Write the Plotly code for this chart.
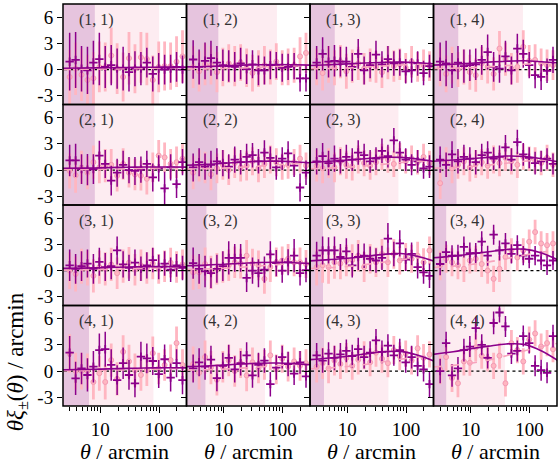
import plotly.graph_objects as go

# ---------------- data ----------------
THETA = [3.0, 3.79, 4.78, 6.03, 7.61, 9.61, 12.1, 15.3, 19.3, 24.4,
         30.7, 38.8, 49.0, 61.8, 78.0, 98.4, 124, 157, 198, 250]

PANEL_LABELS = ["(1, 1)", "(1, 2)", "(1, 3)", "(1, 4)",
                "(2, 1)", "(2, 2)", "(2, 3)", "(2, 4)",
                "(3, 1)", "(3, 2)", "(3, 3)", "(3, 4)",
                "(4, 1)", "(4, 2)", "(4, 3)", "(4, 4)"]

# theta * xi_plus (arcmin)
XIP = [
    [0.9, 1.1, 0.1, -0.1, 0.8, 1.2, 0.3, 0.5, 0.1, 0.1, -0.3, 0.1, 0.1, 0.8, -0.5, 0.1, 0.0, 0.1, 0.3, 0.0],
    [1.15, 0.3, 1.0, 1.3, 0.8, 0.5, 0.4, 0.3, 0.7, 0.05, 0.6, -0.1, -0.1, 0.5, 0.5, 0.2, 0.3, 0.4, -1.0, -1.0],
    [0.8, 1.8, 0.9, 1.0, 0.9, 0.9, 0.3, 1.8, -0.1, 0.5, 1.7, 0.6, 1.2, 0.7, 0.8, -0.2, -0.1, 0.7, -0.4, 0.4],
    [0.9, 0.7, -0.1, 0.8, 0.4, 0.5, 0.6, 1.1, 2.0, 0.3, 0.1, 1.5, -0.1, 2.4, 1.8, 0.5, -0.65, -0.85, -0.15, 1.1],
    [1.1, 1.1, 0.1, 0.05, 0.1, 1.65, 0.7, -1.2, -0.3, 0.6, 0.0, -0.1, 0.05, 0.7, -0.85, 0.2, -2.1, 0.3, -1.6, 0.9],
    [0.3, 0.9, 0.4, 0.6, 1.0, 0.8, 0.4, 1.2, 0.9, 1.5, 1.7, 1.0, 2.0, 1.4, 0.3, 1.3, 1.9, 0.5, -2.0, -0.3],
    [1.0, 1.6, 0.8, 1.3, 1.0, 1.5, 1.2, 2.0, 1.7, 1.0, 1.3, 2.2, 1.6, 3.4, 2.0, 1.2, 0.6, 1.0, 0.2, 0.4],
    [1.2, 0.6, 1.8, 1.0, 1.5, 1.3, 0.9, 1.7, 2.0, 1.3, 1.5, 2.6, 1.2, 3.2, 1.8, 1.4, 0.8, 1.0, 1.3, 0.7],
    [0.6, 0.2, 0.5, 0.8, 0.2, 1.0, 0.4, 0.5, 2.3, 0.7, 0.3, 0.9, 0.2, 0.6, 1.2, 0.4, 0.8, 0.1, 0.6, 0.3],
    [0.85, 0.2, -0.1, -0.3, 0.2, 0.5, 1.45, 1.45, 1.45, -0.85, 0.0, -0.3, 0.1, 1.85, 0.85, 0.0, 0.95, 1.7, -0.3, 0.05],
    [1.7, 2.3, 2.3, 2.3, 1.55, 2.2, 0.6, 1.55, 1.7, 1.35, 1.15, 1.45, 3.65, 1.9, 3.1, 1.25, 1.9, 0.4, -0.2, -0.6],
    [0.75, 2.1, 1.7, 1.7, 2.7, 2.0, 2.0, 3.3, 1.7, 4.1, 2.3, 3.1, 1.9, 2.9, 1.7, 1.35, 1.7, 1.15, 0.6, 1.15],
    [2.1, -0.85, 0.3, -0.45, 0.5, 2.4, 2.5, 0.7, -1.05, 0.9, -0.45, -1.4, 1.65, 1.45, 1.15, -0.35, 1.35, -0.75, 0.9, -1.05],
    [0.3, 1.0, 0.5, 1.3, -0.8, 0.6, 1.5, 0.2, 0.9, 1.8, -0.5, 0.7, 1.2, -1.5, 0.4, 1.6, 0.8, -0.3, 1.0, -0.6],
    [1.8, 1.2, 2.0, 1.5, 1.9, 2.3, 1.7, 2.5, 1.6, 2.1, 3.5, 2.2, 2.9, 1.8, 2.4, 1.0, 1.6, 0.6, 0.2, -1.5],
    [0.0, 3.2, -0.5, 0.3, 2.4, 2.8, 4.9, 3.0, 1.5, 5.5, 6.7, 5.1, 2.0, 2.3, 4.0, 3.2, 0.6, 0.1, -0.2, 4.0],
]

XIP_ERR = [
    [3.3, 3.2, 2.6, 2.7, 2.5, 3.0, 2.4, 2.3, 2.3, 2.5, 2.2, 2.0, 1.9, 1.7, 2.0, 1.8, 1.7, 1.6, 1.7, 1.6],
    [2.2, 2.0, 2.1, 2.0, 1.9, 1.8, 1.8, 1.7, 1.8, 1.7, 1.6, 1.7, 1.6, 1.6, 1.5, 1.6, 1.5, 1.5, 1.5, 1.5],
    [1.9, 1.9, 1.8, 1.8, 1.7, 1.7, 1.6, 1.7, 1.6, 1.5, 1.6, 1.5, 1.5, 1.4, 1.5, 1.4, 1.4, 1.4, 1.4, 1.3],
    [2.2, 2.6, 2.0, 1.9, 1.9, 1.8, 1.8, 1.7, 2.0, 1.7, 1.6, 1.8, 1.6, 1.7, 1.6, 1.5, 1.5, 1.5, 1.4, 1.5],
    [1.8, 1.9, 1.7, 1.8, 1.7, 1.7, 1.6, 1.7, 1.6, 1.6, 1.5, 1.6, 1.5, 1.5, 1.6, 1.5, 1.9, 1.5, 1.6, 1.5],
    [1.6, 1.6, 1.5, 1.6, 1.5, 1.5, 1.4, 1.5, 1.4, 1.5, 1.4, 1.4, 1.4, 1.3, 1.4, 1.3, 1.4, 1.3, 1.6, 1.4],
    [1.5, 1.5, 1.4, 1.5, 1.4, 1.4, 1.3, 1.4, 1.3, 1.3, 1.3, 1.4, 1.3, 1.4, 1.3, 1.3, 1.2, 1.3, 1.2, 1.3],
    [1.5, 1.4, 1.5, 1.4, 1.4, 1.3, 1.4, 1.3, 1.3, 1.3, 1.3, 1.4, 1.3, 1.4, 1.3, 1.2, 1.3, 1.2, 1.2, 1.2],
    [1.8, 1.7, 1.7, 1.6, 1.7, 1.6, 1.6, 1.5, 1.6, 1.5, 1.5, 1.5, 1.4, 1.5, 1.4, 1.4, 1.4, 1.4, 1.3, 1.4],
    [1.8, 1.7, 1.8, 1.7, 1.6, 1.7, 1.9, 1.6, 1.6, 1.6, 1.5, 1.6, 1.5, 1.5, 1.5, 1.4, 1.5, 1.9, 1.4, 1.4],
    [1.6, 1.6, 1.5, 1.6, 1.5, 1.5, 1.4, 1.5, 1.4, 1.4, 1.4, 1.4, 1.8, 1.4, 1.5, 1.3, 1.3, 1.3, 1.3, 1.4],
    [1.3, 1.25, 1.2, 1.25, 1.2, 1.2, 1.15, 1.2, 1.15, 1.15, 1.15, 1.2, 1.1, 1.15, 1.1, 1.1, 1.1, 1.1, 1.1, 1.1],
    [1.9, 1.9, 1.8, 1.9, 1.8, 1.9, 2.0, 1.8, 1.7, 1.8, 1.7, 1.6, 1.7, 1.7, 1.6, 1.6, 1.7, 1.6, 1.6, 1.6],
    [1.6, 1.6, 1.5, 1.6, 1.5, 1.5, 1.5, 1.5, 1.4, 1.5, 1.4, 1.4, 1.4, 1.4, 1.4, 1.3, 1.4, 1.3, 1.3, 1.3],
    [1.4, 1.4, 1.3, 1.4, 1.3, 1.3, 1.3, 1.3, 1.3, 1.3, 1.3, 1.3, 1.3, 1.2, 1.3, 1.2, 1.3, 1.2, 1.4, 1.5],
    [1.4, 1.3, 1.3, 1.3, 1.3, 1.2, 1.3, 1.2, 1.2, 1.3, 1.15, 1.2, 1.2, 1.2, 1.2, 1.2, 1.2, 1.2, 1.2, 1.3],
]

# theta * xi_minus (arcmin)
XIM = [
    [-0.85, 0.1, -0.6, -1.2, -1.0, 0.3, 0.3, 1.6, 0.1, -0.85, 1.3, 0.1, 1.4, 1.2, -1.2, 0.3, 0.4, 0.4, 0.9, 1.5],
    [0.3, -0.2, 0.6, 0.5, -0.3, 0.3, 0.7, 0.4, 0.8, 0.2, -0.4, 0.1, 0.5, 0.3, 0.9, 0.2, 0.3, 0.5, 1.5, 1.9],
    [0.3, -0.4, 0.6, 0.2, 0.9, -0.2, 0.4, 0.7, 0.1, 0.5, 0.3, -0.3, 0.8, 0.4, 0.6, 0.2, 0.9, 0.3, 0.5, 0.4],
    [0.3, -0.5, 0.5, 0.0, 0.3, -0.3, -0.65, 0.7, 0.3, -0.5, 2.4, 1.2, 0.1, 0.3, 2.6, 1.0, 1.1, 0.7, 0.5, 0.5],
    [-0.1, -0.6, 0.3, -0.3, 0.9, 0.3, 0.5, 0.6, -0.65, 0.7, -0.3, -0.5, -0.65, -1.0, 0.3, 1.65, 1.45, 0.7, 0.9, 1.3],
    [-0.3, 0.5, 0.3, -0.5, 0.2, 0.6, 0.0, 0.8, 0.3, 0.5, 1.0, 0.2, 0.7, 1.2, 0.9, 0.4, 0.6, 0.9, 1.3, 0.5],
    [0.5, 0.2, 0.8, 0.3, 1.0, 0.6, 0.4, 1.2, 0.8, 0.5, 0.9, 1.5, 1.2, 0.7, 1.6, 1.0, 1.3, 0.9, 1.5, 0.8],
    [-1.5, 0.9, 0.2, 0.6, 1.0, 0.3, 0.7, 0.9, 0.5, 1.2, 0.8, 1.4, 1.0, 0.6, 1.5, 1.3, 1.1, 0.8, 1.4, 0.6],
    [0.0, -0.4, 0.5, 0.3, -0.6, 0.4, 0.2, 0.7, -0.3, 0.5, 0.9, 0.1, 0.6, 0.3, 0.8, 0.2, 0.5, 0.9, 0.4, 0.7],
    [-0.2, -0.2, 0.75, -0.2, 0.2, 0.4, 0.6, 0.95, 0.8, 1.7, 0.8, 0.6, -0.95, 0.4, 0.95, 1.15, 1.35, 0.95, 0.95, 0.75],
    [0.4, 0.6, 0.4, 0.95, 0.8, 1.15, 1.2, 1.7, 0.4, 1.35, 0.95, 1.9, 0.95, 1.9, 1.15, 1.55, 1.35, 1.7, 0.95, 2.3],
    [0.6, 1.35, 0.95, 0.6, 0.2, 1.15, 1.35, 0.75, 0.0, -0.95, 0.2, 1.55, 2.3, 1.5, 2.3, 3.3, 4.4, 3.1, 2.9, 3.1],
    [2.0, 0.0, 0.0, 0.0, -1.25, -0.25, -1.25, 1.25, -0.9, 2.2, 1.1, 0.1, -0.45, 0.1, 2.05, 0.3, 0.7, 1.25, 3.2, 0.7],
    [0.8, -0.2, 1.6, 0.4, -1.0, 0.5, 1.2, 0.0, 0.9, -0.5, 1.0, 0.3, 0.7, 1.8, 0.2, 1.4, 0.5, 1.1, 0.6, 0.9],
    [0.5, 0.9, 0.3, 1.2, 0.8, 1.5, 0.6, 1.3, 1.8, 1.0, 2.1, 1.4, 0.9, 2.4, 1.7, 2.0, 1.2, 2.6, 1.5, 1.9],
    [0.2, 1.6, -0.8, -1.4, 1.1, 0.95, 2.7, 1.75, 1.45, 0.6, 1.75, -1.4, 3.2, 2.4, 1.1, 3.6, 4.3, 2.8, 3.2, 2.5],
]

XIM_ERR = [
    [3.1, 3.0, 3.0, 2.9, 3.0, 2.9, 2.8, 3.2, 2.9, 2.8, 3.0, 2.8, 2.9, 3.0, 2.8, 2.9, 2.8, 2.7, 2.9, 3.0],
    [2.4, 2.3, 2.4, 2.2, 2.3, 2.2, 2.2, 2.3, 2.1, 2.2, 2.1, 2.1, 2.2, 2.0, 2.1, 2.0, 2.1, 2.0, 2.2, 2.3],
    [2.1, 2.0, 2.1, 2.0, 1.9, 2.0, 1.9, 1.9, 1.8, 1.9, 1.8, 1.8, 1.9, 1.8, 1.8, 1.7, 1.8, 1.7, 1.8, 1.7],
    [2.2, 2.1, 2.1, 2.0, 2.0, 2.0, 1.9, 1.9, 1.9, 1.9, 2.0, 1.9, 1.8, 1.8, 1.9, 1.8, 1.8, 1.7, 1.8, 1.7],
    [2.0, 2.0, 1.9, 1.9, 1.9, 1.8, 1.9, 1.8, 1.8, 1.8, 1.7, 1.8, 1.7, 1.8, 1.7, 1.8, 1.7, 1.7, 1.8, 1.7],
    [1.9, 1.8, 1.8, 1.8, 1.7, 1.7, 1.7, 1.7, 1.6, 1.7, 1.6, 1.6, 1.6, 1.6, 1.6, 1.5, 1.6, 1.5, 1.6, 1.5],
    [1.8, 1.7, 1.7, 1.7, 1.6, 1.6, 1.6, 1.6, 1.5, 1.6, 1.5, 1.5, 1.5, 1.5, 1.5, 1.4, 1.5, 1.4, 1.5, 1.4],
    [1.8, 1.7, 1.7, 1.6, 1.6, 1.6, 1.6, 1.5, 1.5, 1.6, 1.5, 1.5, 1.5, 1.5, 1.5, 1.4, 1.5, 1.4, 1.5, 1.4],
    [2.1, 2.0, 2.0, 2.0, 1.9, 1.9, 1.9, 1.9, 1.8, 1.9, 1.8, 1.8, 1.8, 1.8, 1.8, 1.7, 1.8, 1.7, 1.8, 1.7],
    [2.0, 1.9, 1.9, 1.9, 1.8, 1.8, 1.8, 1.8, 1.7, 1.8, 1.7, 1.7, 1.7, 1.7, 1.7, 1.6, 1.7, 1.6, 1.7, 1.6],
    [2.1, 2.0, 1.9, 1.9, 1.8, 1.8, 1.8, 1.8, 1.7, 1.7, 1.7, 1.7, 1.7, 1.7, 1.6, 1.6, 1.6, 1.6, 1.6, 1.6],
    [1.7, 1.6, 1.6, 1.6, 1.5, 1.5, 1.5, 1.5, 1.5, 1.5, 1.5, 1.5, 1.4, 1.5, 1.4, 1.4, 1.4, 1.4, 1.4, 1.4],
    [2.2, 2.1, 2.1, 2.0, 2.0, 2.0, 2.0, 1.9, 1.9, 1.9, 1.9, 1.9, 1.8, 1.8, 1.9, 1.8, 1.8, 1.8, 1.9, 1.8],
    [2.0, 1.9, 1.9, 1.9, 1.8, 1.8, 1.8, 1.8, 1.7, 1.8, 1.7, 1.7, 1.7, 1.7, 1.7, 1.6, 1.7, 1.6, 1.7, 1.6],
    [1.8, 1.8, 1.7, 1.7, 1.7, 1.7, 1.6, 1.7, 1.6, 1.6, 1.6, 1.6, 1.6, 1.6, 1.6, 1.5, 1.6, 1.5, 1.6, 1.5],
    [1.7, 1.6, 1.6, 1.6, 1.6, 1.5, 1.6, 1.5, 1.5, 1.5, 1.5, 1.5, 1.5, 1.5, 1.5, 1.5, 1.5, 1.5, 1.5, 1.5],
]

# model curves, sampled at these angular scales
THEORY_THETA = [2.2, 5, 10, 20, 40, 80, 160, 320]
THEORY_P = [
    [0.15, 0.18, 0.2, 0.22, 0.25, 0.27, 0.28, 0.28],
    [0.3, 0.35, 0.42, 0.5, 0.55, 0.58, 0.55, 0.5],
    [0.45, 0.55, 0.65, 0.75, 0.82, 0.85, 0.78, 0.65],
    [0.5, 0.6, 0.72, 0.85, 0.95, 1.0, 0.9, 0.75],
    [0.2, 0.22, 0.25, 0.3, 0.33, 0.35, 0.35, 0.33],
    [0.55, 0.65, 0.78, 0.9, 1.0, 1.02, 0.95, 0.8],
    [0.85, 1.0, 1.15, 1.3, 1.45, 1.45, 1.25, 0.95],
    [1.0, 1.15, 1.3, 1.45, 1.6, 1.55, 1.3, 0.9],
    [0.25, 0.28, 0.32, 0.38, 0.42, 0.45, 0.45, 0.42],
    [0.55, 0.62, 0.72, 0.82, 0.92, 0.95, 0.9, 0.78],
    [1.1, 1.25, 1.4, 1.6, 1.85, 1.95, 1.6, 1.0],
    [1.45, 1.65, 1.9, 2.15, 2.4, 2.45, 2.0, 1.15],
    [0.15, 0.18, 0.22, 0.28, 0.32, 0.36, 0.38, 0.36],
    [0.5, 0.58, 0.68, 0.8, 0.9, 0.92, 0.85, 0.7],
    [1.3, 1.5, 1.7, 1.95, 2.2, 2.25, 1.8, 1.05],
    [1.9, 2.2, 2.55, 2.85, 3.1, 3.05, 2.3, 1.1],
]
THEORY_M = [
    [0.02, 0.03, 0.05, 0.08, 0.12, 0.16, 0.2, 0.22],
    [0.05, 0.08, 0.12, 0.18, 0.26, 0.35, 0.42, 0.48],
    [0.08, 0.12, 0.18, 0.28, 0.4, 0.52, 0.62, 0.7],
    [0.1, 0.15, 0.22, 0.32, 0.45, 0.6, 0.72, 0.8],
    [0.03, 0.05, 0.08, 0.12, 0.17, 0.22, 0.27, 0.3],
    [0.1, 0.15, 0.22, 0.32, 0.45, 0.6, 0.72, 0.8],
    [0.15, 0.22, 0.32, 0.47, 0.65, 0.85, 1.0, 1.1],
    [0.2, 0.28, 0.4, 0.57, 0.78, 1.0, 1.15, 1.25],
    [0.04, 0.06, 0.1, 0.15, 0.22, 0.3, 0.36, 0.4],
    [0.12, 0.18, 0.26, 0.38, 0.52, 0.68, 0.82, 0.9],
    [0.22, 0.32, 0.47, 0.68, 0.95, 1.22, 1.45, 1.6],
    [0.35, 0.5, 0.7, 0.98, 1.35, 1.75, 2.1, 2.35],
    [0.03, 0.05, 0.08, 0.12, 0.17, 0.22, 0.27, 0.3],
    [0.1, 0.15, 0.22, 0.33, 0.46, 0.62, 0.75, 0.85],
    [0.25, 0.36, 0.52, 0.75, 1.05, 1.35, 1.6, 1.8],
    [0.45, 0.65, 0.9, 1.25, 1.75, 2.3, 2.8, 3.2],
]

# excluded scales: below SCALE_MIN (dark band) and up to SCALE_MAX (light band)
SCALE_MIN = [8.05, 8.05, 6.1, 6.1, 8.05, 7.7, 6.1, 5.7, 6.6, 5.05, 3.85, 3.8, 6.4, 4.85, 4.0, 3.8]
SCALE_MAX = [100, 80, 80, 77, 82, 72, 74, 64, 82, 64, 50, 49, 80, 50, 50, 38]

X_TICKS = [10, 100]
X_TICK_TEXT = ["10", "100"]
X_MINOR = [2, 3, 4, 5, 6, 7, 8, 9, 20, 30, 40, 50, 60, 70, 80, 90, 200, 300]
Y_TICKS = [-3, 0, 3, 6]
Y_TICK_TEXT = ["-3", "0", "3", "6"]

# ---------------- styles ----------------
PURPLE = "#8b008b"
PINK = "#ffb6c1"
PINK_EDGE = "#f39ab4"
PINK_LINE = "#f7a3bd"
DARK_BAND = "#e6c4de"
LIGHT_BAND = "#fdecf1"
FONT = "'Liberation Serif', 'Times New Roman', 'DejaVu Serif', serif"
XLOG_RANGE = [0.364, 2.466]
Y_RANGE = [-4.0, 7.5]

fig = go.Figure()
layout = dict(
    width=558, height=467,
    margin=dict(l=63, r=1, t=4, b=61),
    paper_bgcolor="white", plot_bgcolor="white",
    showlegend=False,
    font=dict(family=FONT, size=19, color="black"),
)
annotations = []
shapes = []

for k in range(16):
    r, c = divmod(k, 4)
    n = k + 1
    xa = "x" if n == 1 else f"x{n}"
    ya = "y" if n == 1 else f"y{n}"
    xkey = "xaxis" if n == 1 else f"xaxis{n}"
    ykey = "yaxis" if n == 1 else f"yaxis{n}"

    bottom = (r == 3)
    layout[xkey] = dict(
        type="log", range=XLOG_RANGE, domain=[c / 4, (c + 1) / 4], anchor=ya,
        showline=False, showgrid=False, zeroline=False,
        tickmode="array", tickvals=X_TICKS, ticktext=X_TICK_TEXT,
        ticks="outside" if bottom else "", ticklen=6, tickwidth=1.2, tickcolor="black",
        showticklabels=bottom,
        tickfont=dict(family=FONT, size=19, color="black"),
        minor=dict(ticks="outside" if bottom else "", tickmode="array",
                   tickvals=X_MINOR, ticklen=3.5, tickwidth=1, tickcolor="black",
                   showgrid=False),
    )
    layout[ykey] = dict(
        range=Y_RANGE, domain=[1 - (r + 1) / 4, 1 - r / 4], anchor=xa,
        showline=False, showgrid=False, zeroline=False,
        tickmode="array", tickvals=Y_TICKS, ticktext=Y_TICK_TEXT,
        ticks="outside", ticklen=5, tickwidth=1.2, tickcolor="black",
        showticklabels=(c == 0),
        tickfont=dict(family=FONT, size=19, color="black"),
    )

    # shaded scale-cut bands
    fig.add_trace(go.Scatter(
        x=[1.5, SCALE_MAX[k], SCALE_MAX[k], 1.5], y=[-10, -10, 20, 20],
        xaxis=xa, yaxis=ya, mode="lines", fill="toself", fillcolor=LIGHT_BAND,
        line=dict(width=0), hoverinfo="skip"))
    fig.add_trace(go.Scatter(
        x=[1.5, SCALE_MIN[k], SCALE_MIN[k], 1.5], y=[-10, -10, 20, 20],
        xaxis=xa, yaxis=ya, mode="lines", fill="toself", fillcolor=DARK_BAND,
        line=dict(width=0), hoverinfo="skip"))
    # zero line
    fig.add_trace(go.Scatter(
        x=[1.5, 400], y=[0, 0], xaxis=xa, yaxis=ya, mode="lines",
        line=dict(color="black", width=1.3, dash="dot"), hoverinfo="skip"))
    # xi minus data
    fig.add_trace(go.Scatter(
        x=THETA, y=XIM[k], xaxis=xa, yaxis=ya, mode="markers",
        marker=dict(symbol="circle", size=5, color=PINK,
                    line=dict(color=PINK_EDGE, width=1)),
        error_y=dict(type="data", array=XIM_ERR[k], color=PINK,
                     thickness=2.8, width=0),
        cliponaxis=True))
    # xi plus data
    fig.add_trace(go.Scatter(
        x=THETA, y=XIP[k], xaxis=xa, yaxis=ya, mode="markers",
        marker=dict(symbol="cross-thin", size=6,
                    line=dict(color=PURPLE, width=1.8)),
        error_y=dict(type="data", array=XIP_ERR[k], color=PURPLE,
                     thickness=1.5, width=0),
        cliponaxis=True))
    # models
    fig.add_trace(go.Scatter(
        x=THEORY_THETA, y=THEORY_M[k], xaxis=xa, yaxis=ya, mode="lines",
        line=dict(color=PINK_LINE, width=1.6, dash="dash", shape="spline"),
        hoverinfo="skip"))
    fig.add_trace(go.Scatter(
        x=THEORY_THETA, y=THEORY_P[k], xaxis=xa, yaxis=ya, mode="lines",
        line=dict(color=PURPLE, width=1.6, shape="spline"),
        hoverinfo="skip"))

    # panel frame drawn above everything so all borders have equal weight
    shapes.append(dict(
        type="rect", xref=f"{xa} domain", yref=f"{ya} domain",
        x0=0, x1=1, y0=0, y1=1, layer="above",
        line=dict(color="black", width=1.5), fillcolor="rgba(0,0,0,0)"))

    annotations.append(dict(
        text=PANEL_LABELS[k], xref=f"{xa} domain", yref=f"{ya} domain",
        x=0.115, y=0.955, xanchor="left", yanchor="top", showarrow=False,
        font=dict(family=FONT, size=16, color="#333333")))

# axis titles
for c in range(4):
    annotations.append(dict(
        text="<i>θ</i> / arcmin", xref="paper", yref="paper",
        x=(c + 0.5) / 4, y=-0.114, xanchor="center", yanchor="middle",
        showarrow=False, font=dict(family=FONT, size=22, color="black")))

annotations.append(dict(
    text="<i>θξ</i><sub>±</sub>(<i>θ</i>) / arcmin", xref="paper", yref="paper",
    x=-0.093, y=0.109, xanchor="center", yanchor="middle", textangle=-90,
    showarrow=False, font=dict(family=FONT, size=23, color="black")))

layout["annotations"] = annotations
layout["shapes"] = shapes
fig.update_layout(**layout)
fig.write_html(
    "out.html",
    config={"displayModeBar": False},
    post_script="document.body.style.margin='0';document.body.style.overflow='hidden';",
)
